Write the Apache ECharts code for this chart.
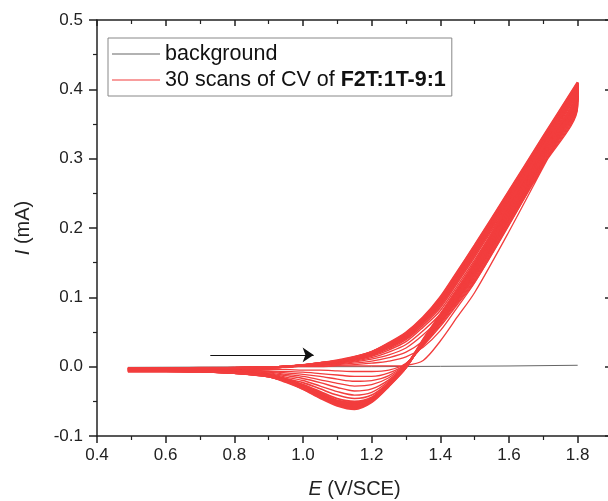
<!DOCTYPE html>
<html><head><meta charset="utf-8">
<script src="https://cdn.jsdelivr.net/npm/echarts@6/dist/echarts.min.js"></script>
<style>html,body{margin:0;padding:0;background:#fff}#c{width:608px;height:501px}</style>
</head><body><div id="c"></div>
<script>
// Potential grid (V vs SCE), ascending
const E = [0.49, 0.6, 0.7, 0.8, 0.9, 0.95, 1.0, 1.05, 1.1, 1.15, 1.2, 1.25, 1.3, 1.35, 1.4, 1.45, 1.5, 1.6, 1.7, 1.8];
// Currents (mA): forward sweep and reverse sweep, both listed at E ascending
const scan01Fwd = [-0.002, -0.002, -0.001, -0.001, 0.000, 0.000, 0.000, 0.000, 0.001, 0.001, 0.001, 0.001, 0.002, 0.009, 0.037, 0.072, 0.107, 0.195, 0.288, 0.380];
const scan01Rev = [-0.004, -0.004, -0.004, -0.004, -0.004, -0.004, -0.005, -0.005, -0.006, -0.007, -0.007, -0.005, 0.005, 0.030, 0.058, 0.090, 0.122, 0.205, 0.290, 0.375];
const scan02Fwd = [-0.002, -0.002, -0.002, -0.001, 0.000, 0.000, 0.001, 0.001, 0.002, 0.003, 0.005, 0.008, 0.014, 0.028, 0.052, 0.086, 0.121, 0.204, 0.292, 0.383];
const scan02Rev = [-0.004, -0.004, -0.004, -0.005, -0.006, -0.007, -0.008, -0.010, -0.012, -0.014, -0.014, -0.009, 0.004, 0.031, 0.060, 0.092, 0.124, 0.207, 0.292, 0.377];
const scan03Fwd = [-0.002, -0.002, -0.002, -0.002, -0.001, 0.000, 0.001, 0.002, 0.003, 0.005, 0.008, 0.013, 0.021, 0.037, 0.062, 0.097, 0.133, 0.213, 0.298, 0.386];
const scan03Rev = [-0.004, -0.004, -0.005, -0.005, -0.007, -0.009, -0.011, -0.014, -0.018, -0.021, -0.020, -0.013, 0.004, 0.032, 0.062, 0.094, 0.126, 0.209, 0.294, 0.379];
const scan04Fwd = [-0.002, -0.002, -0.002, -0.002, -0.001, 0.000, 0.001, 0.002, 0.004, 0.007, 0.011, 0.017, 0.027, 0.046, 0.070, 0.106, 0.142, 0.221, 0.304, 0.389];
const scan04Rev = [-0.005, -0.005, -0.005, -0.006, -0.008, -0.011, -0.014, -0.019, -0.024, -0.028, -0.026, -0.016, 0.003, 0.033, 0.063, 0.096, 0.128, 0.211, 0.296, 0.381];
const scan05Fwd = [-0.002, -0.002, -0.002, -0.002, -0.001, 0.000, 0.001, 0.003, 0.005, 0.008, 0.013, 0.021, 0.032, 0.052, 0.076, 0.112, 0.149, 0.227, 0.309, 0.391];
const scan05Rev = [-0.005, -0.005, -0.005, -0.006, -0.009, -0.013, -0.017, -0.023, -0.030, -0.035, -0.032, -0.019, 0.003, 0.033, 0.064, 0.097, 0.130, 0.213, 0.298, 0.383];
const scan06Fwd = [-0.002, -0.002, -0.002, -0.002, -0.001, 0.000, 0.001, 0.003, 0.005, 0.009, 0.015, 0.024, 0.036, 0.057, 0.081, 0.117, 0.154, 0.232, 0.313, 0.393];
const scan06Rev = [-0.005, -0.005, -0.005, -0.007, -0.010, -0.015, -0.020, -0.028, -0.036, -0.041, -0.037, -0.021, 0.002, 0.034, 0.065, 0.099, 0.132, 0.215, 0.300, 0.385];
const scan07Fwd = [-0.003, -0.003, -0.002, -0.002, -0.001, 0.000, 0.001, 0.003, 0.006, 0.010, 0.016, 0.026, 0.039, 0.060, 0.085, 0.121, 0.158, 0.236, 0.316, 0.395];
const scan07Rev = [-0.005, -0.005, -0.006, -0.007, -0.011, -0.017, -0.023, -0.032, -0.041, -0.046, -0.041, -0.023, 0.002, 0.034, 0.066, 0.100, 0.134, 0.217, 0.302, 0.386];
const scan08Fwd = [-0.003, -0.003, -0.002, -0.002, -0.001, 0.000, 0.002, 0.004, 0.006, 0.011, 0.017, 0.028, 0.041, 0.063, 0.088, 0.124, 0.161, 0.239, 0.319, 0.397];
const scan08Rev = [-0.005, -0.005, -0.006, -0.008, -0.012, -0.018, -0.026, -0.036, -0.046, -0.050, -0.044, -0.024, 0.001, 0.035, 0.067, 0.102, 0.136, 0.219, 0.304, 0.388];
const scan10Fwd = [-0.003, -0.003, -0.003, -0.002, -0.001, 0.000, 0.002, 0.004, 0.007, 0.011, 0.018, 0.029, 0.043, 0.065, 0.091, 0.127, 0.164, 0.242, 0.322, 0.399];
const scan10Rev = [-0.005, -0.005, -0.006, -0.008, -0.012, -0.019, -0.027, -0.038, -0.049, -0.052, -0.046, -0.025, 0.001, 0.035, 0.068, 0.103, 0.138, 0.221, 0.306, 0.389];
const scan12Fwd = [-0.003, -0.003, -0.003, -0.002, -0.001, 0.000, 0.002, 0.004, 0.007, 0.012, 0.019, 0.030, 0.044, 0.066, 0.093, 0.129, 0.166, 0.244, 0.324, 0.401];
const scan12Rev = [-0.006, -0.006, -0.006, -0.008, -0.013, -0.019, -0.028, -0.040, -0.051, -0.054, -0.047, -0.025, 0.001, 0.036, 0.069, 0.105, 0.140, 0.223, 0.308, 0.391];
const scan14Fwd = [-0.003, -0.003, -0.003, -0.002, -0.001, 0.000, 0.002, 0.004, 0.007, 0.012, 0.019, 0.031, 0.045, 0.067, 0.095, 0.131, 0.168, 0.246, 0.326, 0.403];
const scan14Rev = [-0.006, -0.006, -0.006, -0.008, -0.013, -0.020, -0.029, -0.041, -0.052, -0.055, -0.048, -0.026, 0.000, 0.036, 0.070, 0.106, 0.141, 0.225, 0.310, 0.392];
const scan17Fwd = [-0.003, -0.003, -0.003, -0.002, -0.001, 0.000, 0.002, 0.005, 0.008, 0.013, 0.020, 0.032, 0.046, 0.068, 0.096, 0.133, 0.170, 0.248, 0.328, 0.405];
const scan17Rev = [-0.006, -0.006, -0.007, -0.009, -0.013, -0.020, -0.030, -0.042, -0.053, -0.057, -0.049, -0.026, 0.000, 0.037, 0.071, 0.107, 0.143, 0.227, 0.312, 0.394];
const scan20Fwd = [-0.003, -0.003, -0.003, -0.002, -0.001, 0.000, 0.002, 0.005, 0.008, 0.013, 0.020, 0.032, 0.047, 0.069, 0.097, 0.134, 0.171, 0.250, 0.329, 0.406];
const scan20Rev = [-0.006, -0.006, -0.007, -0.009, -0.014, -0.021, -0.031, -0.043, -0.054, -0.058, -0.049, -0.027, 0.000, 0.037, 0.072, 0.109, 0.145, 0.229, 0.313, 0.395];
const scan23Fwd = [-0.003, -0.003, -0.003, -0.002, -0.001, 0.000, 0.002, 0.005, 0.008, 0.013, 0.021, 0.033, 0.048, 0.070, 0.098, 0.135, 0.172, 0.251, 0.330, 0.407];
const scan23Rev = [-0.006, -0.006, -0.007, -0.009, -0.014, -0.021, -0.031, -0.044, -0.055, -0.059, -0.050, -0.027, -0.001, 0.038, 0.073, 0.110, 0.147, 0.231, 0.315, 0.396];
const scan26Fwd = [-0.003, -0.003, -0.003, -0.002, -0.001, 0.000, 0.002, 0.005, 0.008, 0.014, 0.021, 0.033, 0.048, 0.070, 0.099, 0.136, 0.174, 0.252, 0.331, 0.409];
const scan26Rev = [-0.006, -0.006, -0.007, -0.009, -0.014, -0.021, -0.032, -0.044, -0.055, -0.060, -0.050, -0.027, -0.001, 0.038, 0.074, 0.111, 0.148, 0.233, 0.316, 0.397];
const scan30Fwd = [-0.003, -0.003, -0.003, -0.002, -0.001, 0.000, 0.002, 0.005, 0.009, 0.014, 0.021, 0.034, 0.049, 0.071, 0.100, 0.137, 0.175, 0.253, 0.332, 0.410];
const scan30Rev = [-0.007, -0.007, -0.007, -0.009, -0.014, -0.022, -0.032, -0.045, -0.056, -0.061, -0.051, -0.028, -0.001, 0.039, 0.075, 0.112, 0.150, 0.235, 0.318, 0.398];

// Background CV
const bgE = [0.49, 0.8, 1.0, 1.2, 1.4, 1.6, 1.8];
const bgI = [-0.001, -0.0005, 0.0, 0.0, 0.0005, 0.001, 0.002];

// Sweep-direction arrow (E, I)
const arrowE = [0.73, 1.031];
const arrowI = [0.017, 0.017];

// Axes
const xTicks = [0.4, 0.6, 0.8, 1.0, 1.2, 1.4, 1.6, 1.8];
const yTicks = [-0.1, 0.0, 0.1, 0.2, 0.3, 0.4, 0.5];

const BG_NAME = 'background';
const CV_NAME = '30 scans of CV of F2T:1T-9:1';
const RED = '#f23d3d';
const GREY = '#666';
const FONT = '"Liberation Sans", Arial, sans-serif';

// [forward, reverse, drawn width]
const SCANS = [
  [scan01Fwd, scan01Rev, 1.3], [scan02Fwd, scan02Rev, 1.3], [scan03Fwd, scan03Rev, 1.3], [scan04Fwd, scan04Rev, 1.3],
  [scan05Fwd, scan05Rev, 1.4], [scan06Fwd, scan06Rev, 1.4], [scan07Fwd, scan07Rev, 1.6], [scan08Fwd, scan08Rev, 1.8],
  [scan10Fwd, scan10Rev, 2.2], [scan12Fwd, scan12Rev, 2.2], [scan14Fwd, scan14Rev, 2.2], [scan17Fwd, scan17Rev, 2.2],
  [scan20Fwd, scan20Rev, 2.2], [scan23Fwd, scan23Rev, 2.2], [scan26Fwd, scan26Rev, 2.2], [scan30Fwd, scan30Rev, 2.4]
];

const series = [];
series.push({
  name: BG_NAME, type: 'line', symbol: 'none', z: 1,
  data: bgE.map((e, i) => [e, bgI[i]]),
  lineStyle: { color: GREY, width: 1 }, itemStyle: { color: GREY }
});
SCANS.forEach(([f, r, w]) => {
  const d = E.map((e, i) => [e, f[i]]);
  for (let i = E.length - 1; i >= 0; i--) d.push([E[i], r[i]]);
  series.push({
    name: CV_NAME, type: 'line', symbol: 'none', smooth: 0.3, z: 2,
    data: d, lineStyle: { color: RED, width: w }, itemStyle: { color: RED }
  });
});
series.push({
  type: 'lines', coordinateSystem: 'cartesian2d', z: 3,
  symbol: ['none', 'arrow'], symbolSize: [7, 11],
  lineStyle: { color: '#111', width: 1, opacity: 1 },
  data: [{ coords: arrowE.map((e, i) => [e, arrowI[i]]) }]
});

const xMin = xTicks[0], xMax = 1.9, yMin = yTicks[0], yMax = yTicks[yTicks.length - 1];
const axisLine = { show: true, onZero: false, lineStyle: { color: '#222', width: 1.5 } };

const option = {
  animation: false,
  backgroundColor: '#fff',
  grid: { left: 97, top: 20, width: 515, height: 416, containLabel: false, outerBoundsMode: 'none' },
  legend: {
    left: 108, top: 38, orient: 'vertical',
    data: [
      { name: BG_NAME, icon: 'rect', itemStyle: { color: GREY, borderWidth: 0 }, lineStyle: { color: GREY, width: 1 } },
      { name: CV_NAME, icon: 'rect', itemStyle: { color: RED, borderWidth: 0 }, lineStyle: { color: RED, width: 1 } }
    ],
    borderColor: '#888', borderWidth: 1, borderRadius: 0,
    padding: [5, 6, 5, 4], itemGap: 4, itemWidth: 48, itemHeight: 1.2,
    textStyle: { fontFamily: FONT, fontSize: 21.5, color: '#111',
      rich: { b: { fontFamily: FONT, fontSize: 21.5, fontWeight: 'bold', color: '#111' } } },
    formatter: n => n === CV_NAME ? '30 scans of CV of {b|F2T:1T-9:1}' : n
  },
  xAxis: [
    { type: 'value', position: 'bottom', min: xMin, max: xMax, interval: 0.2,
      axisLine, splitLine: { show: false },
      axisTick: { show: true, inside: false, length: 7, lineStyle: { color: '#222', width: 1.5 } },
      minorTick: { show: true, splitNumber: 2, length: 4, lineStyle: { color: '#222', width: 1.2 } },
      axisLabel: { fontFamily: FONT, fontSize: 17, color: '#222', margin: 11, showMaxLabel: false,
        formatter: v => v.toFixed(1) },
      name: '{i|E} (V/SCE)', nameLocation: 'middle', nameGap: 43,
      nameTextStyle: { fontFamily: FONT, fontSize: 20, color: '#222',
        rich: { i: { fontFamily: FONT, fontSize: 20, fontStyle: 'italic', color: '#222' } } } },
    { type: 'value', position: 'top', min: xMin, max: xMax, interval: 0.2,
      axisLine, splitLine: { show: false }, axisLabel: { show: false },
      axisTick: { show: true, inside: true, length: 6, lineStyle: { color: '#222', width: 1.5 } },
      minorTick: { show: true, splitNumber: 2, length: 4, lineStyle: { color: '#222', width: 1.2 } } }
  ],
  yAxis: [
    { type: 'value', position: 'left', min: yMin, max: yMax, interval: 0.1,
      axisLine, splitLine: { show: false },
      axisTick: { show: true, inside: false, length: 8, lineStyle: { color: '#222', width: 1.5 } },
      minorTick: { show: true, splitNumber: 2, length: 4, lineStyle: { color: '#222', width: 1.2 } },
      axisLabel: { fontFamily: FONT, fontSize: 17, color: '#222', margin: 14,
        formatter: v => v.toFixed(1) },
      name: '{i|I} (mA)', nameLocation: 'middle', nameGap: 64, nameRotate: 90,
      nameTextStyle: { fontFamily: FONT, fontSize: 20, color: '#222',
        rich: { i: { fontFamily: FONT, fontSize: 20, fontStyle: 'italic', color: '#222' } } } },
    { type: 'value', position: 'right', min: yMin, max: yMax, interval: 0.1,
      axisLine, splitLine: { show: false }, axisLabel: { show: false },
      axisTick: { show: true, inside: true, length: 7, lineStyle: { color: '#222', width: 1.5 } },
      minorTick: { show: true, splitNumber: 2, length: 4, lineStyle: { color: '#222', width: 1.2 } } }
  ],
  series
};
const chart = echarts.init(document.getElementById('c'), null, { renderer: 'canvas' });
chart.setOption(option);
</script></body></html>
